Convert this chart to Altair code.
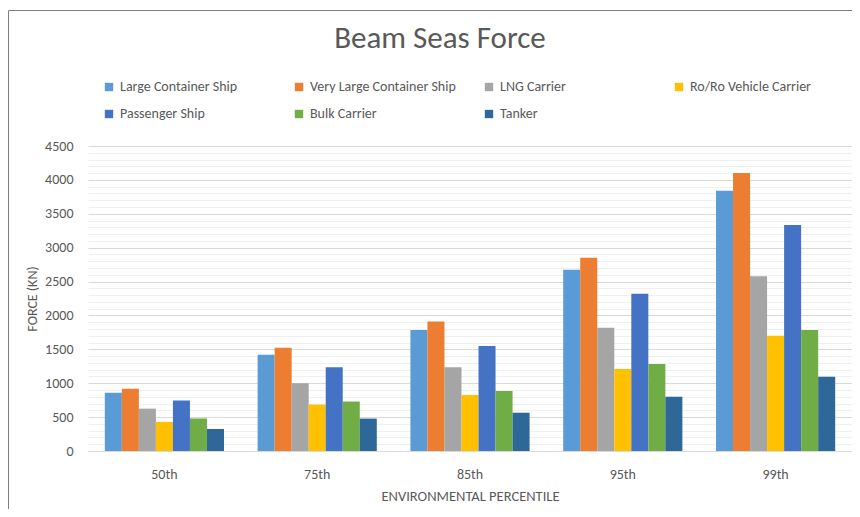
import altair as alt
import pandas as pd

percentiles = ["50th", "75th", "85th", "95th", "99th"]
ships = ["Large Container Ship", "Very Large Container Ship", "LNG Carrier",
         "Ro/Ro Vehicle Carrier", "Passenger Ship", "Bulk Carrier", "Tanker"]
colors = ["#5B9BD5", "#ED7D31", "#A5A5A5", "#FFC000", "#4472C4", "#70AD47", "#2E6898"]

large_container = [860, 1420, 1785, 2675, 3840]
very_large_container = [920, 1525, 1910, 2850, 4100]
lng_carrier = [625, 1000, 1235, 1820, 2580]
roro_vehicle = [430, 685, 825, 1210, 1700]
passenger = [745, 1235, 1550, 2320, 3335]
bulk = [480, 730, 885, 1285, 1785]
tanker = [325, 478, 565, 800, 1095]

series = [large_container, very_large_container, lng_carrier, roro_vehicle,
          passenger, bulk, tanker]

rows = []
for ship, vals in zip(ships, series):
    for p, v in zip(percentiles, vals):
        rows.append({"percentile": p, "ship": ship, "force": v})
df = pd.DataFrame(rows)

grid_values = list(range(0, 4501, 100))

FONT = "Carlito, Calibri, Lato, sans-serif"
GRAY = "#595959"

bars = alt.Chart(df).mark_bar().encode(
    x=alt.X("percentile:N", sort=percentiles,
            scale=alt.Scale(paddingInner=0.22, paddingOuter=0.11),
            axis=alt.Axis(title="ENVIRONMENTAL PERCENTILE", labelAngle=0, ticks=False,
                          domain=True, domainColor="#d9d9d9", labelPadding=16,
                          labelFontSize=14, labelColor=GRAY, labelFont=FONT,
                          titleFont=FONT, titleFontSize=14.5, titleColor=GRAY,
                          titleFontWeight="normal", titlePadding=8)),
    xOffset=alt.XOffset("ship:N", sort=ships),
    y=alt.Y("force:Q", scale=alt.Scale(domain=[0, 4500], nice=False),
            axis=alt.Axis(title="FORCE (KN)", values=grid_values, ticks=False, domain=False,
                          labelExpr="datum.value % 500 === 0 ? datum.label : ''",
                          format="d",
                          gridColor=alt.condition("datum.value % 500 === 0",
                                                  alt.value("#d9d9d9"), alt.value("#f0f0f0")),
                          labelFontSize=14, labelColor=GRAY, labelFont=FONT, labelPadding=15,
                          titleFont=FONT, titleFontSize=14, titleColor=GRAY,
                          titleFontWeight="normal", titlePadding=5)),
    color=alt.Color("ship:N", sort=ships,
                    scale=alt.Scale(domain=ships, range=colors),
                    legend=alt.Legend(title=None, orient="none", direction="horizontal",
                                      columns=4, legendX=14, legendY=-66,
                                      gridAlign="all", columnPadding=26, rowPadding=13,
                                      symbolType="square", symbolSize=70, symbolStrokeWidth=0,
                                      labelFont=FONT, labelFontSize=14, labelColor=GRAY,
                                      labelOffset=4)),
)

frame_top = alt.Chart(alt.Data(values=[{}])).mark_rule(
    color="#7f7f7f", strokeWidth=1).encode(
    x=alt.value(-79.5), x2=alt.value(764), y=alt.value(-135.5))
frame_left = alt.Chart(alt.Data(values=[{}])).mark_rule(
    color="#7f7f7f", strokeWidth=1).encode(
    x=alt.value(-79.5), y=alt.value(-135.5), y2=alt.value(363))

chart = alt.layer(bars, frame_top, frame_left).properties(
    width=764, height=305,
    title=alt.Title("Beam Seas Force", fontSize=31, font=FONT, fontWeight=300,
                    color=GRAY, anchor="middle", dx=-30, offset=-45),
    autosize=alt.AutoSizeParams(type="none"),
    padding={"left": 80, "top": 138, "right": 0, "bottom": 58},
).configure_view(stroke=None)

chart.save("out.html", embed_options={"renderer": "svg", "actions": False})
